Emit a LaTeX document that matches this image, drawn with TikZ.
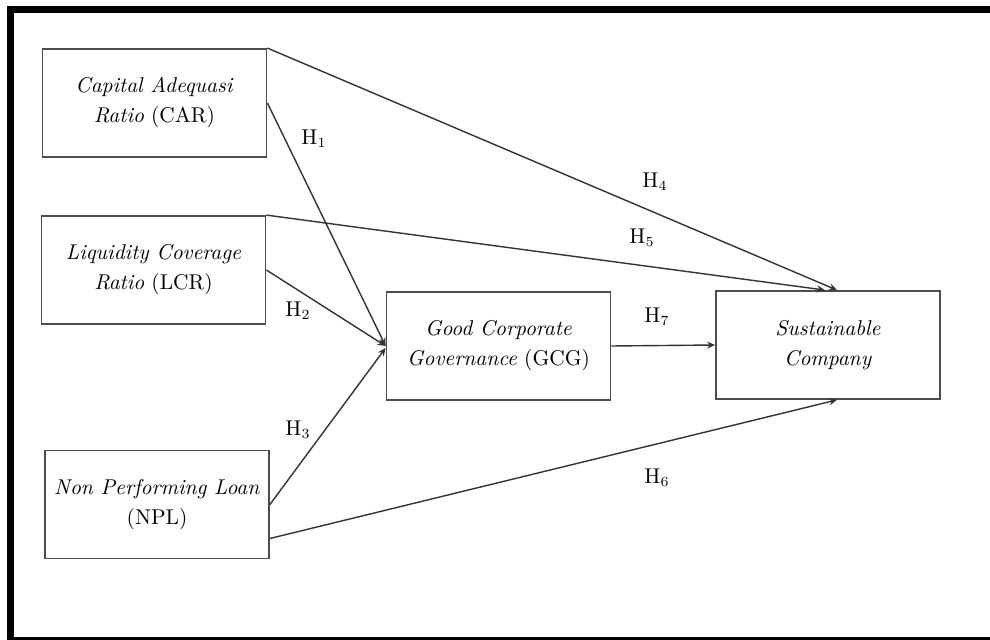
\documentclass[tikz,border=0pt]{standalone}
\usepackage{amsmath}
\usepackage{tikz}
\usepackage{xcolor}
\usetikzlibrary{arrows.meta}

\begin{document}
\begin{tikzpicture}[x=0.5pt,y=-0.5pt]%
  \tikzstyle{varbox}=[rectangle,draw=black!70,line width=0.9pt,minimum width=112pt,minimum height=54pt,inner sep=2pt,align=center,font=\fontsize{10.7}{15}\selectfont]
  \tikzstyle{hyp}=[font=\fontsize{10.7}{12}\selectfont,inner sep=0pt]
  \tikzstyle{path}=[draw=black!80,line width=0.7pt,-{Stealth[length=4pt,width=3.5pt]}]
  \useasboundingbox (0,0) rectangle (990,640);
  % frame
  \fill (7,6) rectangle (990,13);
  \fill (7,6) rectangle (14,640);
  \fill (7,637) rectangle (990,640);
  % variables
  \node(car)[varbox] at (154.5,103) {\textit{Capital Adequasi}\\\textit{Ratio} (CAR)};
  \node(lcr)[varbox] at (153.5,270) {\textit{Liquidity Coverage}\\\textit{Ratio} (LCR)};
  \node(npl)[varbox] at (157,504.5) {\textit{Non Performing Loan}\\(NPL)};
  \node(gcg)[varbox] at (498.5,346) {\textit{Good Corporate}\\\textit{Governance} (GCG)};
  \node(sc)[varbox] at (828,345) {\textit{Sustainable}\\\textit{Company}};
  % hypotheses
  \draw[path] (car.east) -- (gcg.west);
  \draw[path] (lcr.east) -- (gcg.west);
  \draw[path] (npl.east) -- ([yshift=-1pt]gcg.west);
  \draw[path] (car.north east) -- ([xshift=4.5pt]sc.north);
  \draw[path] (lcr.north east) -- ([xshift=-1.5pt]sc.north);
  \draw[path] ([yshift=-17pt]npl.east) -- ([xshift=4.5pt]sc.south);
  \draw[path] (gcg.east) -- (sc.west);
  \node(h1)[hyp] at (314,139) {H$_1$};
  \node(h2)[hyp] at (298,311) {H$_2$};
  \node(h3)[hyp] at (298,430) {H$_3$};
  \node(h4)[hyp] at (655,182) {H$_4$};
  \node(h5)[hyp] at (642,238) {H$_5$};
  \node(h6)[hyp] at (657,478) {H$_6$};
  \node(h7)[hyp] at (657,317) {H$_7$};
\end{tikzpicture}
\end{document}
